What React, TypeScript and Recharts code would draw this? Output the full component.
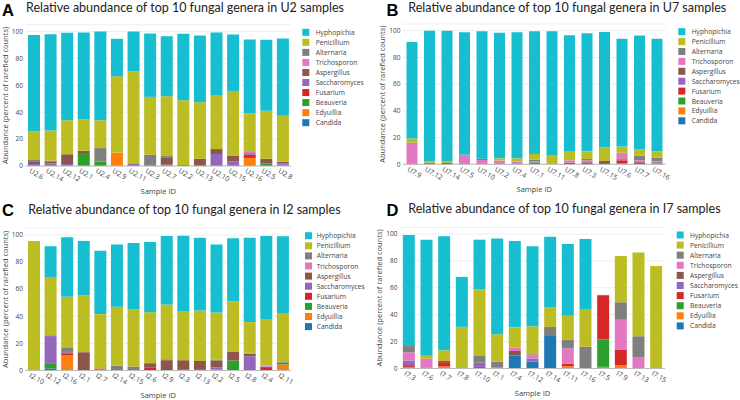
import React from 'react';
import { BarChart, Bar, XAxis, YAxis, CartesianGrid } from 'recharts';

// Stack order bottom -> top
const GENERA = ['Candida', 'Edyuillia', 'Beauveria', 'Fusarium', 'Saccharomyces', 'Aspergillus', 'Trichosporon', 'Alternaria', 'Penicillium', 'Hyphopichia'];
const LEGEND_ORDER = [...GENERA].reverse();
const COLORS: Record<string, string> = {
  Hyphopichia: '#17becf', Penicillium: '#bcbd22', Alternaria: '#7f7f7f', Trichosporon: '#e377c2',
  Aspergillus: '#8c564b', Saccharomyces: '#9467bd', Fusarium: '#d62728', Beauveria: '#2ca02c',
  Edyuillia: '#ff7f0e', Candida: '#1f77b4',
};
const Y_TICKS = [0, 20, 40, 60, 80, 100];

// ---------- Panel A: U2 ----------
const U2_SAMPLES = ['U2.6', 'U2.14', 'U2.12', 'U2.1', 'U2.4', 'U2.9', 'U2.11', 'U2.3', 'U2.7', 'U2.2', 'U2.13', 'U2.10', 'U2.15', 'U2.16', 'U2.5', 'U2.8'];
const U2_CANDIDA = [0, 0, 0, 0, 0, 0, 0, 0, 0, 0, 0, 0, 0, 0, 0, 0];
const U2_EDYUILLIA = [0, 0, 0, 0, 0, 10, 0, 0, 0, 0, 0, 0, 0, 6, 0, 0.8];
const U2_BEAUVERIA = [0, 0, 0, 9, 3.3, 0, 0, 0.8, 0, 0.8, 0, 0, 0, 0, 1.8, 0];
const U2_FUSARIUM = [0, 0, 0, 0, 0, 0, 0, 0, 0, 0, 0, 0, 0, 2.4, 0, 0];
const U2_SACCHAROMYCES = [1.5, 2, 1.5, 0, 0, 0, 1.5, 0, 1, 0, 0, 8.9, 3.3, 1.2, 0, 1];
const U2_ASPERGILLUS = [2, 1.5, 7.3, 2.3, 0, 0, 0, 0, 5, 0, 5.4, 3.7, 4.5, 0, 3.6, 1.4];
const U2_TRICHOSPORON = [0, 0, 0, 0, 0, 0, 0, 0, 0, 0, 0, 0, 0, 0.8, 0, 0];
const U2_ALTERNARIA = [1, 0.5, 0, 0, 10, 0, 0, 7.6, 1.4, 0, 0, 0, 0, 0, 0, 0];
const U2_PENICILLIUM = [21.2, 22.4, 25.2, 23.3, 20.7, 56.7, 68.9, 43, 44.5, 48.1, 42, 39.7, 48, 28.6, 35.6, 34.1];
const U2_HYPHOPICHIA = [71.8, 71.6, 65, 64.7, 66, 27.9, 29.6, 47.1, 44.6, 49.4, 49.6, 47, 42, 55, 52.8, 57.5];

// ---------- Panel B: U7 ----------
const U7_SAMPLES = ['U7.9', 'U7.12', 'U7.14', 'U7.5', 'U7.10', 'U7.2', 'U7.4', 'U7.1', 'U7.11', 'U7.8', 'U7.3', 'U7.15', 'U7.6', 'U7.7', 'U7.16'];
const U7_CANDIDA = [0, 0, 0, 0, 0, 0, 0, 0, 0, 0, 0, 0, 0, 1.3, 0];
const U7_EDYUILLIA = [0, 0.4, 0, 0, 0, 0, 0, 0, 0, 0, 0, 0, 0.5, 0, 0];
const U7_BEAUVERIA = [0, 0, 0, 0, 0, 0, 0, 1.5, 0, 0, 0, 0, 0, 0, 0];
const U7_FUSARIUM = [0.6, 0.8, 0, 0, 0, 0, 0, 0, 0, 0, 0, 0, 2.5, 0.4, 0.5];
const U7_SACCHAROMYCES = [0, 0, 0, 0, 0, 0, 0, 0, 0, 0, 0, 0, 0.6, 0, 1];
const U7_ASPERGILLUS = [0, 0, 1, 0, 0, 0, 0, 0, 0, 1.2, 1.5, 2.5, 0.8, 0, 0.5];
const U7_TRICHOSPORON = [15.4, 0, 0, 6.8, 3.2, 2.8, 2, 0.8, 0, 1.8, 1.5, 0, 3.7, 1.3, 0.5];
const U7_ALTERNARIA = [0.3, 0, 0, 0.3, 1, 0, 0, 1.2, 0, 0, 1, 0, 0.6, 3.5, 2.5];
const U7_PENICILLIUM = [3, 1.1, 1.5, 0, 0, 1.7, 2.5, 4.2, 7, 7, 5.7, 10, 4.6, 4.5, 4.5];
const U7_HYPHOPICHIA = [72.2, 97.7, 97.5, 91.7, 95.3, 94, 94.3, 91.8, 92.5, 86.5, 88.3, 86.5, 80.7, 85.3, 84.5];

// ---------- Panel C: I2 ----------
const I2_SAMPLES = ['I2.10', 'I2.12', 'I2.16', 'I2.1', 'I2.7', 'I2.14', 'I2.15', 'I2.6', 'I2.9', 'I2.3', 'I2.13', 'I2.2', 'I2.5', 'I2.8', 'I2.4', 'I2.11'];
const I2_CANDIDA = [0, 1.5, 0, 0, 0, 0, 0, 0, 0, 0, 0, 0, 0, 0, 0, 0];
const I2_EDYUILLIA = [0, 0, 11, 0, 0.7, 0, 0, 0, 0, 0, 0, 0, 0, 0, 0, 4.5];
const I2_BEAUVERIA = [0, 3.9, 0, 0, 0, 0, 0, 0, 0, 1, 0.5, 0.8, 7.3, 0, 0, 1.4];
const I2_FUSARIUM = [0, 0, 1.2, 0, 0.8, 0, 0, 2, 0, 0, 0, 0, 0, 0, 2.5, 0];
const I2_SACCHAROMYCES = [0, 20, 1, 0, 0, 0, 0, 0, 0, 0, 0, 1.5, 0, 10.5, 0.5, 0];
const I2_ASPERGILLUS = [0, 0, 1, 13.5, 0, 0, 0, 3.4, 7.6, 6.6, 6.5, 5, 6.7, 2, 0, 0];
const I2_TRICHOSPORON = [0, 0, 0, 0, 0, 0, 0, 0, 0, 0, 0, 0, 0, 0.5, 0.5, 0];
const I2_ALTERNARIA = [0, 0.6, 2.4, 0, 0, 3.5, 3, 0, 0.7, 0, 0, 0.8, 0, 0, 0, 0.4];
const I2_PENICILLIUM = [95.6, 42.5, 37.9, 41.8, 40.1, 43.5, 42, 37.6, 40.4, 36.2, 37.3, 34.7, 37.1, 22.7, 34.4, 35.5];
const I2_HYPHOPICHIA = [0, 23.2, 43.8, 40.3, 46.7, 46, 49.1, 51.9, 50.6, 55.7, 53.7, 50.2, 46.5, 62.3, 61.4, 57.2];

// ---------- Panel D: I7 ----------
const I7_SAMPLES = ['I7.3', 'I7.6', 'I7.7', 'I7.8', 'I7.10', 'I7.1', 'I7.4', 'I7.12', 'I7.14', 'I7.11', 'I7.16', 'I7.5', 'I7.9', 'I7.13', 'I7.15'];
const I7_CANDIDA = [0, 0, 0, 0, 0, 0, 9.5, 5.1, 24.8, 0, 0, 0, 0, 0, 0];
const I7_EDYUILLIA = [1.2, 0, 1.5, 0, 0, 1, 0, 0, 0, 1.7, 0, 1.2, 2.5, 0, 0];
const I7_BEAUVERIA = [0, 0, 0, 0, 1.2, 0, 0, 0, 0, 0, 0, 20.4, 0, 0, 0];
const I7_FUSARIUM = [1.3, 0, 3.2, 0, 0, 0, 0, 0, 0, 2, 0, 32.5, 11.7, 0, 0];
const I7_SACCHAROMYCES = [3.5, 0, 0, 0, 3.2, 0, 0, 2.3, 0, 0, 0, 0, 0, 0, 0];
const I7_ASPERGILLUS = [0, 0.7, 0.9, 0, 0, 0, 3.5, 0, 0, 0, 0, 0.6, 0, 0, 0];
const I7_TRICHOSPORON = [6, 6.7, 0, 0, 0, 0, 2.5, 2.4, 0, 11.3, 0, 0, 22.1, 8.1, 0];
const I7_ALTERNARIA = [4.7, 0, 0, 0, 4.9, 4.1, 0, 0.8, 6.1, 6.3, 16.2, 0, 13, 15.9, 0];
const I7_PENICILLIUM = [0, 2, 7.9, 31, 49.5, 20.4, 15.1, 20.8, 14.7, 17.9, 27.4, 0, 34.3, 62.3, 76.2];
const I7_HYPHOPICHIA = [82.6, 86.3, 84.8, 37.1, 37, 71.1, 64.3, 59.6, 52.4, 53.4, 52.7, 0, 0, 0, 0];

function buildRows(samples: string[], series: Record<string, number[]>) {
  return samples.map((s, i) => {
    const row: Record<string, any> = { sample: s };
    GENERA.forEach((g) => { row[g] = series[g][i]; });
    return row;
  });
}

const U2_ROWS = buildRows(U2_SAMPLES, {
  Candida: U2_CANDIDA, Edyuillia: U2_EDYUILLIA, Beauveria: U2_BEAUVERIA, Fusarium: U2_FUSARIUM,
  Saccharomyces: U2_SACCHAROMYCES, Aspergillus: U2_ASPERGILLUS, Trichosporon: U2_TRICHOSPORON,
  Alternaria: U2_ALTERNARIA, Penicillium: U2_PENICILLIUM, Hyphopichia: U2_HYPHOPICHIA,
});
const U7_ROWS = buildRows(U7_SAMPLES, {
  Candida: U7_CANDIDA, Edyuillia: U7_EDYUILLIA, Beauveria: U7_BEAUVERIA, Fusarium: U7_FUSARIUM,
  Saccharomyces: U7_SACCHAROMYCES, Aspergillus: U7_ASPERGILLUS, Trichosporon: U7_TRICHOSPORON,
  Alternaria: U7_ALTERNARIA, Penicillium: U7_PENICILLIUM, Hyphopichia: U7_HYPHOPICHIA,
});
const I2_ROWS = buildRows(I2_SAMPLES, {
  Candida: I2_CANDIDA, Edyuillia: I2_EDYUILLIA, Beauveria: I2_BEAUVERIA, Fusarium: I2_FUSARIUM,
  Saccharomyces: I2_SACCHAROMYCES, Aspergillus: I2_ASPERGILLUS, Trichosporon: I2_TRICHOSPORON,
  Alternaria: I2_ALTERNARIA, Penicillium: I2_PENICILLIUM, Hyphopichia: I2_HYPHOPICHIA,
});
const I7_ROWS = buildRows(I7_SAMPLES, {
  Candida: I7_CANDIDA, Edyuillia: I7_EDYUILLIA, Beauveria: I7_BEAUVERIA, Fusarium: I7_FUSARIUM,
  Saccharomyces: I7_SACCHAROMYCES, Aspergillus: I7_ASPERGILLUS, Trichosporon: I7_TRICHOSPORON,
  Alternaria: I7_ALTERNARIA, Penicillium: I7_PENICILLIUM, Hyphopichia: I7_HYPHOPICHIA,
});

type PanelCfg = {
  letter: string; title: string; rows: any[];
  left: number; top: number; yw: number; mr: number; mt: number; xh: number; gap: string;
  letterX: number; letterY: number; titleX: number; titleY: number;
  legX: number; legY: number; legStep: number; legTextX: number;
};

const PANELS: PanelCfg[] = [
  {
    letter: 'A', title: 'Relative abundance of top 10 fungal genera in U2 samples', rows: U2_ROWS,
    left: 0, top: 0, yw: 25.5, mr: 79, mt: 24.8, xh: 34, gap: '15%',
    letterX: 2, letterY: 15.6, titleX: 26, titleY: 12,
    legX: 302.3, legY: 32.3, legStep: 10.04, legTextX: 315.7,
  },
  {
    letter: 'B', title: 'Relative abundance of top 10 fungal genera in U7 samples', rows: U7_ROWS,
    left: 370, top: 0, yw: 33, mr: 74.5, mt: 24, xh: 35.7, gap: '20%',
    letterX: 386.5, letterY: 15.6, titleX: 408.3, titleY: 12,
    legX: 678.3, legY: 31.7, legStep: 9.9, legTextX: 691.7,
  },
  {
    letter: 'C', title: 'Relative abundance of top 10 fungal genera in I2 samples', rows: I2_ROWS,
    left: 0, top: 200, yw: 25.5, mr: 79, mt: 28.2, xh: 29.5, gap: '15%',
    letterX: 2, letterY: 215.5, titleX: 28.3, titleY: 213.5,
    legX: 305, legY: 235.7, legStep: 10.1, legTextX: 316.7,
  },
  {
    letter: 'D', title: 'Relative abundance of top 10 fungal genera in I7 samples', rows: I7_ROWS,
    left: 370, top: 200, yw: 30, mr: 75, mt: 27.3, xh: 31.5, gap: '16%',
    letterX: 386.5, letterY: 215.5, titleX: 408.3, titleY: 213.3,
    legX: 676.7, legY: 235, legStep: 10.1, legTextX: 690,
  },
];

const RotTick = (props: any) => {
  const { x, y, payload } = props;
  return (
    <g transform={`translate(${x - 2.5},${y + 2}) rotate(30)`}>
      <text x={0} y={0} dy="0.72em" textAnchor="start" fontSize={7} fill="#444" fontFamily='"Open Sans", sans-serif'>
        {payload.value}
      </text>
    </g>
  );
};

function Panel({ cfg }: { cfg: PanelCfg }) {
  return (
    <div style={{ position: 'absolute', left: cfg.left, top: cfg.top, width: 370, height: 200 }}>
      <BarChart
        width={370}
        height={200}
        data={cfg.rows}
        margin={{ top: cfg.mt, right: cfg.mr, left: 0, bottom: 0 }}
        barCategoryGap={cfg.gap}
        style={{ fontFamily: '"Open Sans", sans-serif' }}
      >
        <CartesianGrid vertical={false} stroke="#eeeeee" />
        <XAxis
          dataKey="sample"
          interval={0}
          height={cfg.xh}
          tickLine={false}
          tickSize={0}
          tickMargin={0}
          axisLine={{ stroke: '#bbbbbb' }}
          tick={<RotTick />}
        />
        <YAxis
          domain={[0, 105]}
          ticks={Y_TICKS}
          width={cfg.yw}
          tickLine={false}
          axisLine={false}
          tickSize={0}
          tickMargin={2.5}
          tick={{ fontSize: 6.5, fill: '#444' }}
        />
        {GENERA.map((g) => (
          <Bar key={g} dataKey={g} stackId="s" fill={COLORS[g]} isAnimationActive={false} />
        ))}
      </BarChart>
    </div>
  );
}

function Overlay() {
  return (
    <svg width={740} height={400} style={{ position: 'absolute', left: 0, top: 0, pointerEvents: 'none' }}>
      {PANELS.map((p) => {
        const y0 = 200 - p.xh;
        const plotRight = 370 - p.mr;
        return (
          <g key={p.letter}>
            <text x={p.letterX} y={p.letterY} fontFamily='"Liberation Sans", sans-serif' fontWeight={700} fontSize={16.5} fill="#000">{p.letter}</text>
            <text x={p.titleX} y={p.titleY} fontFamily="Lato, sans-serif" fontSize={12.5} fill="#222">{p.title}</text>
            <text
              transform={`translate(${p.left + p.yw - 21},${p.top + (p.mt + y0) / 2}) rotate(-90)`}
              textAnchor="middle"
              dominantBaseline="central"
              fontFamily='"Open Sans", sans-serif'
              fontSize={7.5}
              fill="#444"
            >
              Abundance (percent of rarefied counts)
            </text>
            <text
              x={p.left + (p.yw + plotRight) / 2}
              y={p.top + y0 + 24.5}
              textAnchor="middle"
              dominantBaseline="central"
              fontFamily='"Open Sans", sans-serif'
              fontSize={7.5}
              fill="#444"
            >
              Sample ID
            </text>
            {LEGEND_ORDER.map((g, i) => {
              const cy = p.legY + i * p.legStep;
              return (
                <g key={g}>
                  <rect x={p.legX} y={cy - 3.5} width={7} height={7} fill={COLORS[g]} />
                  <text x={p.legTextX} y={cy} dominantBaseline="central" fontFamily='"Open Sans", sans-serif' fontSize={6.7} fill="#444">{g}</text>
                </g>
              );
            })}
          </g>
        );
      })}
    </svg>
  );
}

export default function App() {
  return (
    <div style={{ position: 'absolute', left: 0, top: 0, width: 740, height: 400, background: '#fff', overflow: 'hidden' }}>
      {PANELS.map((p) => (
        <Panel key={p.letter} cfg={p} />
      ))}
      <Overlay />
    </div>
  );
}
